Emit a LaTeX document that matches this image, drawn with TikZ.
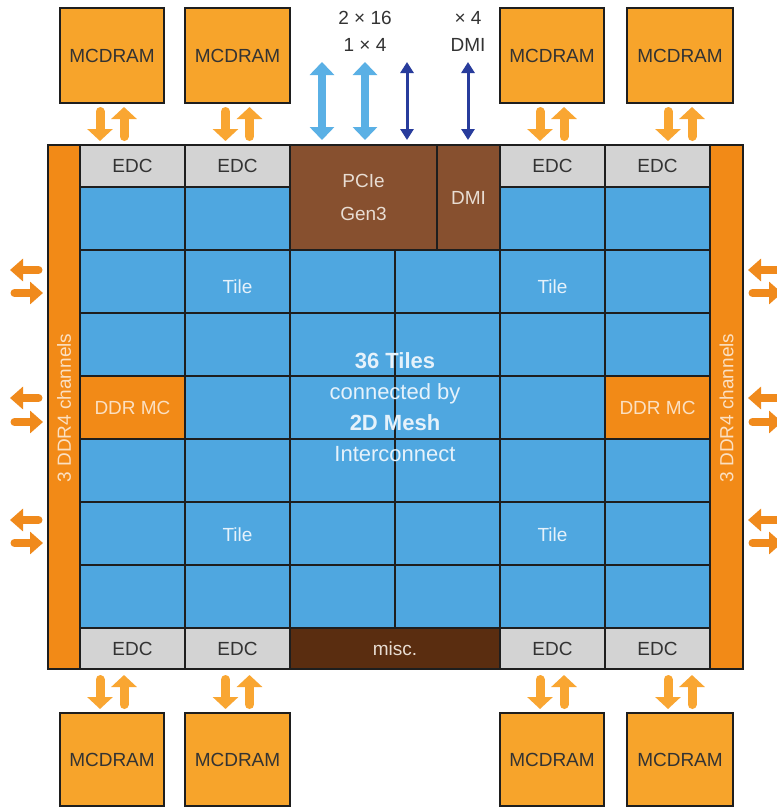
\documentclass[tikz,border=0pt]{standalone}
\usepackage{fontspec}
\setmainfont{Liberation Sans}
\usetikzlibrary{arrows.meta}
\definecolor{tileblue}{HTML}{4FA7E0}
\definecolor{edcgray}{HTML}{D3D3D3}
\definecolor{barorange}{HTML}{F28A17}
\definecolor{mcorange}{HTML}{F7A42B}
\definecolor{arrowor}{HTML}{F9A632}
\definecolor{sideor}{HTML}{F08A1C}
\definecolor{pciebrown}{HTML}{87502F}
\definecolor{miscbrown}{HTML}{5A2D10}
\definecolor{lightblue}{HTML}{5AB0E5}
\definecolor{darkblue}{HTML}{283C9C}
\definecolor{linec}{HTML}{1E1E1E}
\definecolor{txtdark}{HTML}{333333}
\definecolor{tiletxt}{HTML}{E6F2FB}
\definecolor{ortxt}{HTML}{FBE0C2}
\definecolor{browntxt}{HTML}{E8DDD3}
\newcommand\boxnode[7]{\node[#1, minimum width={(#5)-(#3)}, minimum height={(#6)-(#4)}] (#2) at ({((#3)+(#5))/2},{((#4)+(#6))/2}) {#7};}
\begin{document}
\begin{tikzpicture}[x=1pt,y=-1pt,
  cellbox/.style={draw=linec, line width=2.4pt, inner sep=0pt, outer sep=0pt, rectangle},
  tilebox/.style={cellbox, fill=tileblue},
  edcbox/.style={cellbox, fill=edcgray, text=txtdark, font=\fontsize{19}{23}\selectfont},
  mcbox/.style={cellbox, fill=mcorange, text=txtdark, font=\fontsize{19}{23}\selectfont},
  ddrbox/.style={cellbox, fill=barorange, text=ortxt, font=\fontsize{19}{23}\selectfont},
  ddrbar/.style={cellbox, fill=barorange},
  pciebox/.style={cellbox, fill=pciebrown, text=browntxt, font=\fontsize{19}{23}\selectfont, align=center},
  miscbox/.style={cellbox, fill=miscbrown, text=browntxt, font=\fontsize{19}{23}\selectfont},
  tilelabel/.style={text=tiletxt, font=\fontsize{19}{23}\selectfont, inner sep=0pt},
  barlabel/.style={text=ortxt, font=\fontsize{19}{23}\selectfont, inner sep=0pt, rotate=90},
  toplabel/.style={text=txtdark, font=\fontsize{19}{23}\selectfont, inner sep=0pt},
  oa/.style={draw=arrowor, line width=9pt, line cap=round, -{Triangle[width=25pt,length=12pt]}},
  sa/.style={draw=sideor, line width=8pt, line cap=round, -{Triangle[width=22pt,length=13pt]}},
  lba/.style={draw=lightblue, line width=8pt, {Triangle[width=24pt,length=13pt]}-{Triangle[width=24pt,length=13pt]}},
  dba/.style={draw=darkblue, line width=3pt, {Triangle[width=13pt,length=11pt]}-{Triangle[width=13pt,length=11pt]}}
]
\clip (0,0) rectangle (777,807);
\fill[white] (0,0) rectangle (777,807);

% tiles
\foreach \r in {1,...,7}{
  \foreach \c in {1,...,6}{
    \pgfmathtruncatemacro\skipcell{or(and(\r==1, or(\c==3,\c==4)), and(\r==4, or(\c==1,\c==6)))}
    \ifnum\skipcell=0
      \pgfmathsetmacro\xa{80+105*(\c-1)}
      \pgfmathsetmacro\xb{80+105*\c}
      \pgfmathsetmacro\ya{187+63*(\r-1)}
      \pgfmathsetmacro\yb{187+63*\r}
      \boxnode{tilebox}{t-\r-\c}{\xa}{\ya}{\xb}{\yb}{}
    \fi
  }
}

% special boxes
\boxnode{pciebox}{pcie}{290}{145}{437}{250}{PCIe\\[10pt]Gen3}
\boxnode{pciebox}{dmi}{437}{145}{500}{250}{DMI}
\boxnode{miscbox}{misc}{290}{628}{500}{669}{misc.}
\boxnode{ddrbox}{ddrL}{80}{376}{185}{439}{DDR MC}
\boxnode{ddrbox}{ddrR}{605}{376}{710}{439}{DDR MC}

% EDCs
\boxnode{edcbox}{et1}{80}{145}{185}{187}{EDC}
\boxnode{edcbox}{et2}{185}{145}{290}{187}{EDC}
\boxnode{edcbox}{et3}{500}{145}{605}{187}{EDC}
\boxnode{edcbox}{et4}{605}{145}{710}{187}{EDC}
\boxnode{edcbox}{eb1}{80}{628}{185}{669}{EDC}
\boxnode{edcbox}{eb2}{185}{628}{290}{669}{EDC}
\boxnode{edcbox}{eb3}{500}{628}{605}{669}{EDC}
\boxnode{edcbox}{eb4}{605}{628}{710}{669}{EDC}

% DDR bars
\boxnode{ddrbar}{barL}{48}{145}{80}{669}{}
\boxnode{ddrbar}{barR}{710}{145}{743}{669}{}
\node[barlabel] (barLlab) at (64,408) {3 DDR4 channels};
\node[barlabel] (barRlab) at (726.5,408) {3 DDR4 channels};

% MCDRAMs
\boxnode{mcbox}{mt1}{60}{8}{164}{103}{MCDRAM}
\boxnode{mcbox}{mt2}{185}{8}{290}{103}{MCDRAM}
\boxnode{mcbox}{mt3}{500}{8}{604}{103}{MCDRAM}
\boxnode{mcbox}{mt4}{627}{8}{733}{103}{MCDRAM}
\boxnode{mcbox}{mb1}{60}{713}{164}{806}{MCDRAM}
\boxnode{mcbox}{mb2}{185}{713}{290}{806}{MCDRAM}
\boxnode{mcbox}{mb3}{500}{713}{604}{806}{MCDRAM}
\boxnode{mcbox}{mb4}{627}{713}{733}{806}{MCDRAM}

% tile labels
\node[tilelabel] (lab1) at (237.5,287) {Tile};
\node[tilelabel] (lab2) at (552.5,287) {Tile};
\node[tilelabel] (lab3) at (237.5,535) {Tile};
\node[tilelabel] (lab4) at (552.5,535) {Tile};

% center text
\node[text=tiletxt, font=\fontsize{22}{31}\selectfont, align=center, inner sep=0pt] (center) at (395,407)
  {\textbf{36 Tiles}\\connected by\\\textbf{2D Mesh}\\Interconnect};

% top labels
\node[toplabel] (l216) at (365,18) {2 × 16};
\node[toplabel] (l14) at (365,45) {1 × 4};
\node[toplabel] (lx4) at (468,18) {× 4};
\node[toplabel] (ldmi) at (468,45) {DMI};

% top blue arrows
\coordinate (pa1) at (322,62);
\coordinate (pa2) at (365,62);
\coordinate (pa3) at (407,62);
\coordinate (pa4) at (468,62);
\draw[lba, shorten >=5pt] (pa1) -- (pa1 |- pcie.north);
\draw[lba, shorten >=5pt] (pa2) -- (pa2 |- pcie.north);
\draw[dba, shorten >=5pt] (pa3) -- (pa3 |- pcie.north);
\draw[dba, shorten >=5pt] (pa4) -- (pa4 |- dmi.north);

% MCDRAM <-> EDC arrows (top)
\foreach \i in {1,2,3,4}{
  \draw[oa, shorten <=8.5pt, shorten >=4pt] ([xshift=-12pt]mt\i.south) -- ([xshift=-12pt]mt\i.south |- et\i.north);
  \draw[oa, shorten <=8.5pt, shorten >=4pt] ([xshift=12pt]mt\i.south |- et\i.north) -- ([xshift=12pt]mt\i.south);
  \draw[oa, shorten <=10.5pt, shorten >=4pt] ([xshift=-12pt]mb\i.north |- eb\i.south) -- ([xshift=-12pt]mb\i.north);
  \draw[oa, shorten <=8.5pt, shorten >=6pt] ([xshift=12pt]mb\i.north) -- ([xshift=12pt]mb\i.north |- eb\i.south);
}

% side arrows
\foreach \k/\yo/\yi in {1/270/293, 2/398/422, 3/520/543}{
  \coordinate (Lo\k) at (10,\yo);
  \coordinate (Li\k) at (14.5,\yi);
  \coordinate (Ro\k) at (786,\yo);
  \coordinate (Ri\k) at (782,\yi);
  \draw[sa, shorten <=9.5pt] (barL.west |- Lo\k) -- (Lo\k);
  \draw[sa, shorten >=5pt] (Li\k) -- (barL.west |- Li\k);
  \draw[sa, shorten >=5pt] (Ro\k) -- (barR.east |- Ro\k);
  \draw[sa, shorten <=9.5pt] (barR.east |- Ri\k) -- (Ri\k);
}
\end{tikzpicture}
\end{document}
